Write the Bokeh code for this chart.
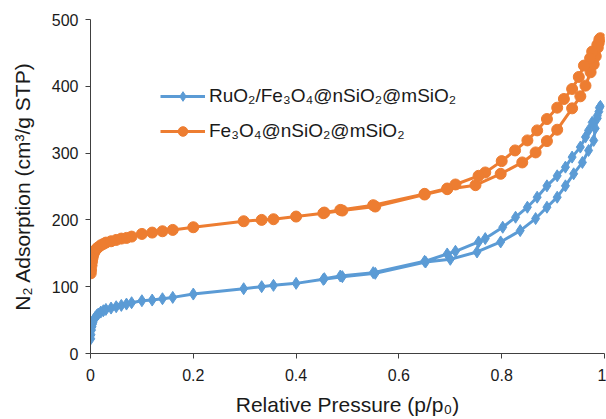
import numpy as np
from bokeh.plotting import figure
from bokeh.models import Legend, LegendItem, Range1d, FixedTicker
from bokeh.embed import file_html
from bokeh.resources import INLINE

# ---- data ----
# RuO2/Fe3O4@nSiO2@mSiO2 : adsorption branch then desorption branch
ru_ads_x = [0.0005, 0.001, 0.002, 0.003, 0.004, 0.005, 0.007, 0.009, 0.012, 0.015,
            0.02, 0.025, 0.03, 0.04, 0.05, 0.06, 0.07, 0.08, 0.1, 0.12, 0.14, 0.16,
            0.2, 0.298, 0.333, 0.356, 0.40, 0.453, 0.49, 0.554, 0.652, 0.70, 0.752,
            0.798, 0.836, 0.866, 0.888, 0.908, 0.924, 0.94, 0.957, 0.969, 0.979,
            0.982, 0.986, 0.989, 0.992]
ru_ads_y = [22, 28, 35, 40, 44, 47, 51, 54, 57, 59,
            62, 64, 66, 68, 70, 72, 74, 76, 79, 80, 82, 84,
            89, 97, 100, 102, 105, 111, 115, 120, 137, 141, 152,
            167, 184, 202, 219, 234, 251, 269, 286, 304, 319,
            337, 352, 362, 370]
ru_des_x = [0.99, 0.986, 0.976, 0.969, 0.963, 0.953, 0.937, 0.924, 0.908, 0.888,
            0.869, 0.85, 0.827, 0.802, 0.768, 0.755, 0.71, 0.694, 0.65, 0.55,
            0.486, 0.455]
ru_des_y = [368, 356, 346, 334, 324, 309, 294, 279, 266, 251,
            234, 219, 204, 189, 172, 167, 153, 149, 138, 121,
            116, 112]

# Fe3O4@nSiO2@mSiO2
fe_ads_x = [0.0005, 0.001, 0.002, 0.003, 0.004, 0.005, 0.007, 0.009, 0.012, 0.015,
            0.02, 0.025, 0.03, 0.04, 0.05, 0.06, 0.07, 0.08, 0.1, 0.12, 0.14, 0.16,
            0.2, 0.298, 0.333, 0.356, 0.40, 0.453, 0.49, 0.554, 0.65, 0.694, 0.749,
            0.798, 0.84, 0.866, 0.888, 0.908, 0.937, 0.953, 0.963, 0.973, 0.979,
            0.983, 0.987, 0.990, 0.992]
fe_ads_y = [120, 125, 132, 138, 143, 147, 151, 154, 157, 159,
            162, 164, 166, 168, 170, 172, 173, 175, 179, 181, 183, 185,
            189, 198, 200, 201, 205, 210, 214, 220, 238, 246, 252,
            269, 286, 301, 318, 335, 367, 385, 401, 421, 433,
            445, 458, 466, 472]
fe_des_x = [0.99, 0.986, 0.976, 0.972, 0.96, 0.95, 0.937, 0.921, 0.908, 0.888,
            0.869, 0.85, 0.826, 0.80, 0.768, 0.755, 0.71, 0.694, 0.65, 0.55,
            0.486, 0.455]
fe_des_y = [470, 462, 452, 442, 431, 414, 396, 381, 368, 351,
            334, 319, 304, 288, 271, 266, 253, 247, 239, 222,
            215, 211]

ru_x = ru_ads_x + ru_des_x
ru_y = ru_ads_y + ru_des_y
fe_x = fe_ads_x + fe_des_x
fe_y = fe_ads_y + fe_des_y

x_ticks = [0, 0.2, 0.4, 0.6, 0.8, 1.0]
x_tick_labels = {0: "0", 0.2: "0.2", 0.4: "0.4", 0.6: "0.6", 0.8: "0.8", 1.0: "1"}
y_ticks = [0, 100, 200, 300, 400, 500]

label_ru = "RuO\u2082/Fe\u2083O\u2084@nSiO\u2082@mSiO\u2082"
label_fe = "Fe\u2083O\u2084@nSiO\u2082@mSiO\u2082"

BLUE = "#5B9BD5"
ORANGE = "#ED7D31"
FONT = "Liberation Sans"
TXT = "#1a1a1a"
AX = "#404040"

p = figure(width=606, height=419, output_backend="svg", toolbar_location=None,
           x_range=Range1d(0, 1), y_range=Range1d(0, 500),
           min_border_left=90, min_border_right=2, min_border_top=19,
           min_border_bottom=66)
p.outline_line_color = None
p.xgrid.visible = False
p.ygrid.visible = False
p.background_fill_color = "white"
p.border_fill_color = "white"

l1 = p.line(ru_x, ru_y, line_color=BLUE, line_width=3)
s1 = p.scatter(ru_x, ru_y, marker="diamond", size=12,
               fill_color=BLUE, line_color=BLUE)
l2 = p.line(fe_x, fe_y, line_color=ORANGE, line_width=3)
s2 = p.scatter(fe_x, fe_y, marker="circle", size=11,
               fill_color=ORANGE, line_color=ORANGE)

for ax in (p.xaxis[0], p.yaxis[0]):
    ax.axis_line_color = AX
    ax.major_tick_line_color = AX
    ax.minor_tick_line_color = None
    ax.major_tick_in = 0
    ax.major_tick_out = 5
    ax.major_label_text_font = FONT
    ax.major_label_text_font_size = "16px"
    ax.major_label_text_color = TXT
    ax.axis_label_text_font = FONT
    ax.axis_label_text_font_size = "21px"
    ax.axis_label_text_font_style = "normal"
    ax.axis_label_text_color = TXT

p.xaxis.ticker = FixedTicker(ticks=x_ticks)
p.xaxis.major_label_overrides = x_tick_labels
p.xaxis.major_label_standoff = 10
p.xaxis.axis_label = "Relative Pressure (p/p\u2080)"
p.xaxis.axis_label_standoff = 9

p.yaxis.ticker = FixedTicker(ticks=y_ticks)
p.yaxis.major_label_standoff = 7
p.yaxis.axis_label = "N\u2082 Adsorption (cm\u00b3/g STP)"
p.yaxis.axis_label_standoff = 15

legend = Legend(items=[LegendItem(label=label_ru, renderers=[l1, s1]),
                       LegendItem(label=label_fe, renderers=[l2, s2])],
                location=(70, 210), orientation="vertical",
                glyph_width=45, glyph_height=24, spacing=11, padding=0, margin=0,
                label_standoff=4, label_text_font=FONT, label_text_font_size="19px",
                label_text_color=TXT, border_line_color=None,
                background_fill_alpha=0)
p.add_layout(legend, "center")

open("out.html", "w").write(file_html(p, INLINE))
